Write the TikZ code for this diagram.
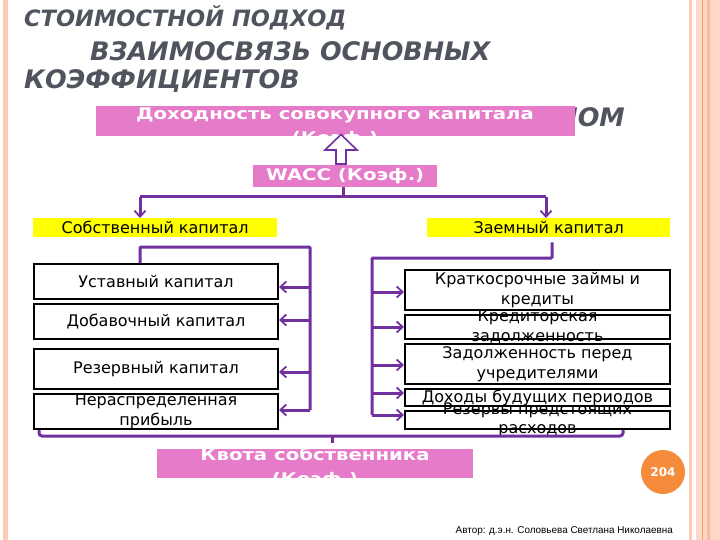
\documentclass[tikz,border=0pt]{standalone}
\usepackage{fontspec}
\setmainfont{DejaVu Sans}
\newfontfamily\authfont{Liberation Sans}
\newfontfamily\wideb[FakeStretch=1.23]{DejaVu Sans Bold}
\usetikzlibrary{arrows.meta,calc}
\definecolor{ttl}{HTML}{4F545E}
\definecolor{pur}{HTML}{7030A0}
\definecolor{pnk}{HTML}{E67BC9}
\definecolor{ylw}{HTML}{FFFF00}
\definecolor{org}{HTML}{F68B3C}
\definecolor{peach}{HTML}{FCCBB8}
\definecolor{peachlt}{HTML}{FDD7C8}
\definecolor{peachdk}{HTML}{FBBC9E}
\definecolor{orgline}{HTML}{F2A070}
\tikzset{
  wbox/.style={draw=black, line width=2pt, fill=white, inner sep=0pt, anchor=north west},
  ybox/.style={fill=ylw, inner sep=0pt, anchor=north west},
  pbox/.style={fill=pnk, inner sep=0pt, anchor=north west},
  btxt/.style={inner sep=0pt, align=center, font=\fontsize{16}{19.5}\selectfont},
  ptxt/.style={inner sep=0pt, align=center, text=white, font=\wideb\fontsize{16}{24}\selectfont},
  ttxt/.style={inner sep=0pt, anchor=base west, text=ttl},
  conn/.style={draw=pur, line width=3pt, rounded corners=1pt},
  arr/.style={draw=pur, line width=3pt, -{Straight Barb[length=6pt,width=11pt,line width=1.8pt]}},
}
\begin{document}
\begin{tikzpicture}[x=1pt,y=-1pt]
\useasboundingbox (0,0) rectangle (720,540);
\fill[white] (0,0) rectangle (720,540);
% borders
\fill[peach] (3,0) rectangle (8,540);
\fill[peach] (689,0) rectangle (692,540);
\fill[peachlt] (696,0) rectangle (720,540);
\fill[orgline] (702,0) rectangle (703.2,540);
\fill[peachdk] (707,0) rectangle (710,540);
% title
\node[ttxt, font=\fontsize{22.5}{27}\selectfont\bfseries\itshape] (t1) at (24,27) {СТОИМОСТНОЙ ПОДХОД};
\node[ttxt, font=\fontsize{25.5}{30}\selectfont\bfseries\itshape] (t2) at (90,61) {ВЗАИМОСВЯЗЬ ОСНОВНЫХ};
\node[ttxt, font=\fontsize{25.5}{30}\selectfont\bfseries\itshape] (t3) at (24,89) {КОЭФФИЦИЕНТОВ};
\node[ttxt, anchor=base east, font=\fontsize{25.5}{30}\selectfont\bfseries\itshape] (t4) at (625,127) {ЛОМ};
% pink top box
\node[pbox, minimum width=479pt, minimum height=30pt] (roa) at (96,106) {};
\node[ptxt, anchor=north] (roat) at (335,108) {Доходность совокупного капитала\\(Коэф.)};
% WACC
\node[pbox, minimum width=184pt, minimum height=22pt] (wacc) at (253,165) {};
\node[ptxt] (wacct) at (wacc.center) {WACC (Коэф.)};
% hollow arrow between WACC and the pink box
\draw[pur, line width=1.6pt, fill=white, line join=miter]
  (336,164) -- (336,150) -- (325,150) -- (341,134.5) -- (357,150) -- (346,150) -- (346,164) -- cycle;
% yellow boxes
\node[ybox, minimum width=244pt, minimum height=19pt] (own) at (33,218) {};
\node[btxt] at (own.center) {Собственный капитал};
\node[ybox, minimum width=243pt, minimum height=19pt] (debt) at (427,218) {};
\node[btxt] at (debt.center) {Заемный капитал};
% top connectors
\coordinate (hl) at (140,197);
\coordinate (hr) at (546,197);
\coordinate (wx) at (343,0);
\draw[conn] (wacc.south -| wx) -- (hl -| wx);
\draw[conn] (hl) -- (hr);
\draw[arr] (hl) -- (hl |- own.north);
\draw[arr] (hr) -- (hr |- debt.north);
% left boxes
\node[wbox, minimum width=244pt, minimum height=35pt] (l1) at (33,263) {};
\node[btxt] at (l1.center) {Уставный капитал};
\node[wbox, minimum width=244pt, minimum height=35pt] (l2) at (33,303) {};
\node[btxt] at (l2.center) {Добавочный капитал};
\node[wbox, minimum width=244pt, minimum height=40pt] (l3) at (33,348) {};
\node[btxt] at (l3.center) {Резервный капитал};
\node[wbox, minimum width=244pt, minimum height=35pt] (l4) at (33,393) {};
\node[btxt] at (l4.center) {Нераспределенная\\прибыль};
% right boxes
\node[wbox, minimum width=265pt, minimum height=40pt] (r1) at (404,269) {};
\node[btxt] at (r1.center) {Краткосрочные займы и\\кредиты};
\node[wbox, minimum width=265pt, minimum height=24pt] (r2) at (404,314) {};
\node[btxt] at (r2.center) {Кредиторская\\задолженность};
\node[wbox, minimum width=265pt, minimum height=40pt] (r3) at (404,343) {};
\node[btxt] at (r3.center) {Задолженность перед\\учредителями};
\node[wbox, minimum width=265pt, minimum height=17pt] (r4) at (404,388) {};
\node[btxt] at (r4.center) {Доходы будущих периодов};
\node[wbox, minimum width=265pt, minimum height=18pt] (r5) at (404,410) {};
\node[btxt] at (r5.center) {Резервы предстоящих\\расходов};
% left bracket
\coordinate (lx) at (310,247);
\draw[conn] (l1.north -| hl) -- (hl |- lx) -- (lx) -- (lx |- 0,410);
\draw[arr] (lx |- 0,287) -- (l1.east |- 0,287);
\draw[arr] (lx |- 0,320) -- (l2.east |- 0,320);
\draw[arr] (lx |- 0,372) -- (l3.east |- 0,372);
\draw[arr] (lx |- 0,410) -- (l4.east |- 0,410);
% right bracket
\coordinate (rx) at (372,258);
\coordinate (dx) at (552,0);
\draw[conn] ($(debt.south -| dx)+(0,5)$) -- (rx -| dx) -- (rx) -- (rx |- 0,415);
\draw[arr] (rx |- 0,292) -- (r1.west |- 0,292);
\draw[arr] (rx |- 0,327) -- (r2.west |- 0,327);
\draw[arr] (rx |- 0,365) -- (r3.west |- 0,365);
\draw[arr] (rx |- 0,393) -- (r4.west |- 0,393);
\draw[arr] (rx |- 0,415) -- (r5.west |- 0,415);
% bottom bracket
\node[pbox, minimum width=316pt, minimum height=29pt] (quota) at (157,449) {};
\coordinate (qx) at (332,436);
\draw[conn, rounded corners=3pt] (l4.south west -| 39,0) -- (39,436) -- (623,436) -- (r5.south -| 623,0);
\draw[conn] (qx) -- ($(quota.north -| qx)+(0,-6)$);
\node[ptxt, anchor=north] (quotat) at (315,448) {Квота собственника\\(Коэф.)};
% page number
\node[circle, fill=org, minimum size=44pt, inner sep=0pt, text=white, font=\fontsize{12}{14}\selectfont\bfseries] (pg) at (663,472) {204};
% author
\node[anchor=base east, inner sep=0pt, font=\authfont\fontsize{9.9}{11}\selectfont] (auth) at (673,533) {Автор: д.э.н. Соловьева Светлана Николаевна};
\end{tikzpicture}
\end{document}
